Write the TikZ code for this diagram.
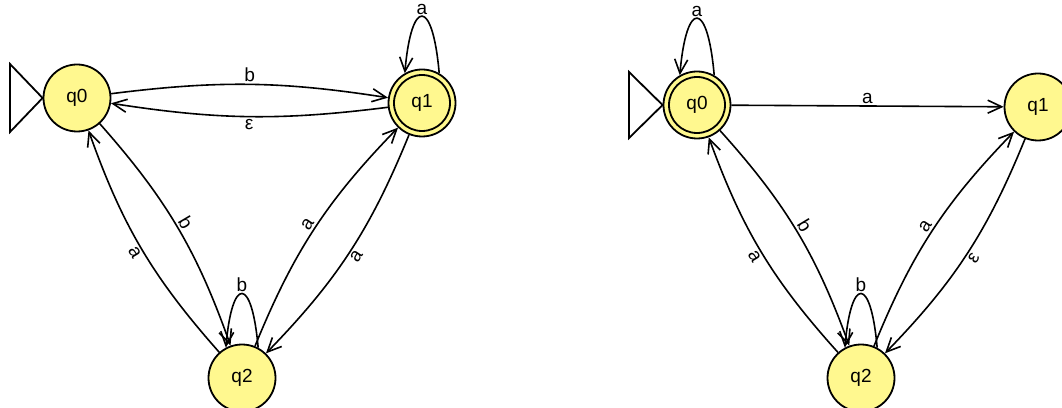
\documentclass[tikz,border=0pt]{standalone}
\usepackage{fontspec}
\setmainfont{Liberation Sans}
\usetikzlibrary{arrows.meta,calc}
\definecolor{stfill}{HTML}{FFF88F}
\begin{document}
\begin{tikzpicture}[x=1pt,y=1pt,
  state/.style={circle,draw=black,line width=1.8pt,fill=stfill,minimum size=67pt,inner sep=0pt,font=\fontsize{19}{22}\selectfont},
  ring/.style={draw=black,line width=1.8pt},
  edge/.style={draw=black,line width=1.6pt,-{Straight Barb[length=14pt,width=13pt]}},
  lbl/.style={font=\fontsize{19}{22}\selectfont,inner sep=2pt},
  startmark/.style={draw=black,line width=1.8pt,fill=white}]
\useasboundingbox (0,0) rectangle (1062,407);
% left automaton
\node[state] (lq0) at (77,309) {q0};
\node[state] (lq1) at (422,304) {q1};
\node[state] (lq2) at (242,29) {q2};
\draw[ring] (lq1.center) circle[radius=28];
\draw[startmark] (10,343) -- (10,275) -- (lq0.west) -- cycle;
\draw[edge] (lq0) to[bend left=8] node[lbl,above,sloped] {b} (lq1);
\draw[edge] (lq1) to[bend left=8] node[lbl,below,sloped] {ε} (lq0);
\draw[edge] (lq0) to[bend left=11] node[lbl,above,sloped] {b} (lq2);
\draw[edge] (lq2) to[bend left=11] node[lbl,below,sloped] {a} (lq0);
\draw[edge] (lq2) to[bend left=11] node[lbl,above,sloped] {a} (lq1);
\draw[edge] (lq1) to[bend left=11] node[lbl,below,sloped] {a} (lq2);
\draw[edge] (lq1.60) .. controls +(95:76) and +(85:76) .. (lq1.120) node[lbl,pos=0.5,above,inner sep=1pt] {a};
\draw[edge] (lq2.62) .. controls +(95:72) and +(85:72) .. (lq2.118) node[lbl,pos=0.5,above,inner sep=1pt] {b};
% right automaton
\node[state] (rq0) at (697,302) {q0};
\node[state] (rq1) at (1038,300) {q1};
\node[state] (rq2) at (861,29) {q2};
\draw[ring] (rq0.center) circle[radius=28];
\draw[startmark] (629,335) -- (629,269) -- (rq0.west) -- cycle;
\draw[edge] (rq0) -- node[lbl,above] {a} (rq1);
\draw[edge] (rq0) to[bend left=11] node[lbl,above,sloped] {b} (rq2);
\draw[edge] (rq2) to[bend left=11] node[lbl,below,sloped] {a} (rq0);
\draw[edge] (rq2) to[bend left=11] node[lbl,above,sloped] {a} (rq1);
\draw[edge] (rq1) to[bend left=11] node[lbl,below,sloped] {ε} (rq2);
\draw[edge] (rq0.60) .. controls +(95:76) and +(85:76) .. (rq0.120) node[lbl,pos=0.5,above,inner sep=1pt] {a};
\draw[edge] (rq2.62) .. controls +(95:72) and +(85:72) .. (rq2.118) node[lbl,pos=0.5,above,inner sep=1pt] {b};
\end{tikzpicture}
\end{document}
